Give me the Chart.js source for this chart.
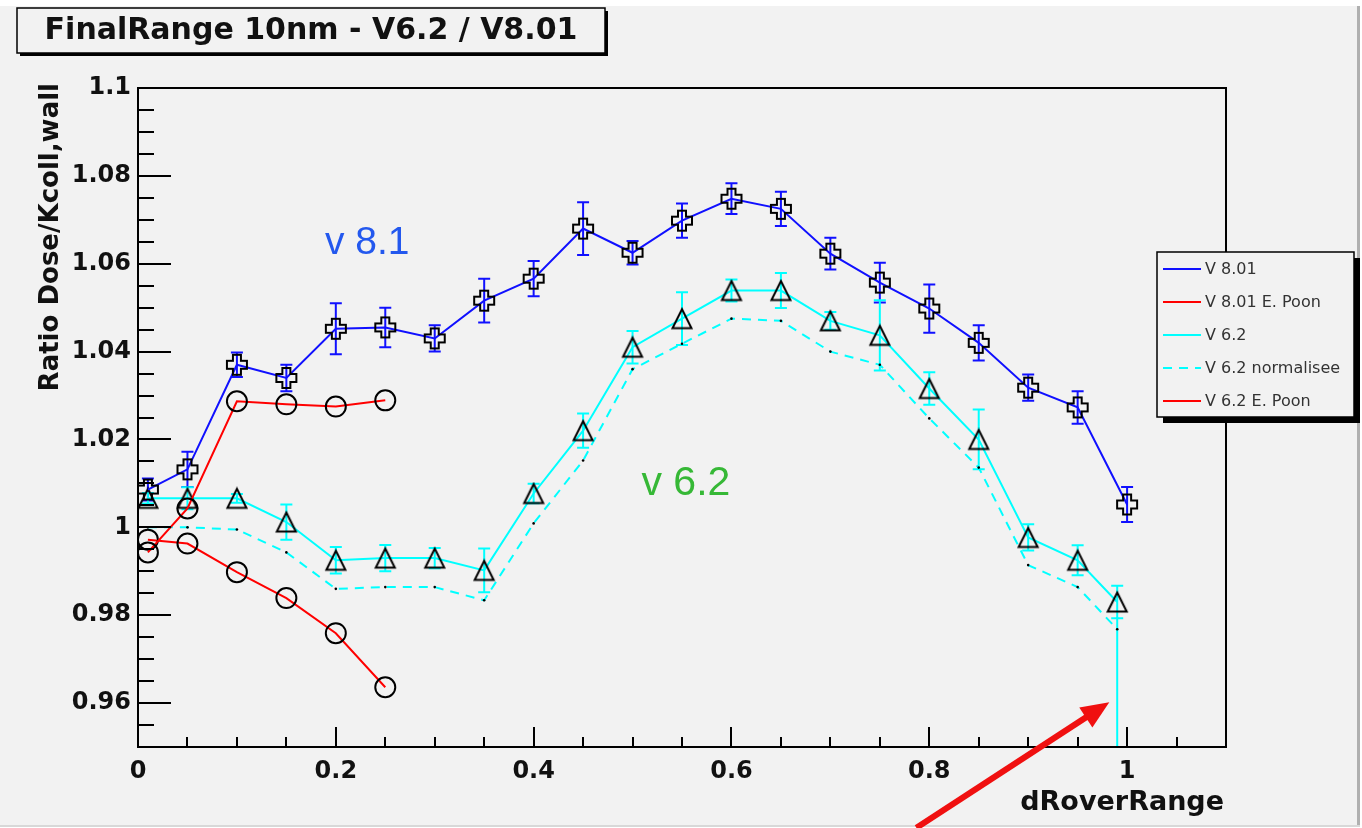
<!DOCTYPE html>
<html><head><meta charset="utf-8">
<script src="https://cdn.jsdelivr.net/npm/chart.js@4.4.1/dist/chart.umd.min.js"></script>
<style>html,body{margin:0;padding:0;background:#fff;overflow:hidden}canvas{display:block}</style>
</head><body>
<canvas id="c" width="1362" height="828"></canvas>
<script>
// ---------------- data ----------------
const chartTitle = 'FinalRange 10nm - V6.2 / V8.01';
const xAxisTitle = 'dRoverRange';
const yAxisTitle = 'Ratio Dose/Kcoll,wall';

const xV801 = [0.01,0.05,0.1,0.15,0.2,0.25,0.3,0.35,0.4,0.45,0.5,0.55,0.6,0.65,0.7,0.75,0.8,0.85,0.9,0.95,1.0];
const yV801 = [1.0086,1.0132,1.0370,1.0340,1.0452,1.0455,1.0430,1.0516,1.0566,1.0680,1.0625,1.0698,1.0748,1.0725,1.0623,1.0557,1.0498,1.0420,1.0318,1.0273,1.0052];
const eV801 = [0.0025,0.0040,0.0028,0.0030,0.0058,0.0045,0.0030,0.0050,0.0040,0.0060,0.0027,0.0039,0.0035,0.0039,0.0036,0.0045,0.0055,0.0040,0.0030,0.0037,0.0040];

const xPoon = [0.01,0.05,0.1,0.15,0.2,0.25];
const yV801Poon = [0.9943,1.0043,1.0287,1.0280,1.0275,1.0289];
const yV62Poon  = [0.9972,0.9963,0.9898,0.9839,0.9759,0.9636];

const xV62 = [0.01,0.05,0.1,0.15,0.2,0.25,0.3,0.35,0.4,0.45,0.5,0.55,0.6,0.65,0.7,0.75,0.8,0.85,0.9,0.95,0.99];
const yV62 = [1.0066,1.0066,1.0066,1.0012,0.9925,0.9930,0.9930,0.9902,1.0077,1.0220,1.0410,1.0475,1.0539,1.0539,1.0470,1.0437,1.0316,1.0200,0.9977,0.9925,0.9830];
const eV62 = [0.0012,0.0025,0.0010,0.0040,0.0030,0.0030,0.0023,0.0050,0.0022,0.0039,0.0037,0.0060,0.0025,0.0040,0.0020,0.0080,0.0037,0.0068,0.0030,0.0034,0.0037];

const yV62Norm = [1.0000,1.0000,0.9995,0.9943,0.9860,0.9864,0.9864,0.9834,1.0009,1.0152,1.0360,1.0418,1.0475,1.0470,1.0400,1.0370,1.0248,1.0136,0.9914,0.9864,0.9768];
const eV62NormHigh = [0,0,0,0,0,0,0,0,0,0,0,0,0,0,0,0,0,0,0,0,0.0028];
const eV62NormLow  = [0,0,0,0,0,0,0,0,0,0,0,0,0,0,0,0,0,0,0,0,0.0800];

const xTicks = [0,0.2,0.4,0.6,0.8,1];
const yTicks = [0.96,0.98,1,1.02,1.04,1.06,1.08,1.1];

const legendLabels = ['V 8.01','V 8.01 E. Poon','V 6.2','V 6.2 normalisee','V 6.2 E. Poon'];

const noteV81 = {text:'v 8.1', x:0.189, y:1.0623};
const noteV62 = {text:'v 6.2', x:0.509, y:1.0073};
const arrowTail = {x:0.787, y:0.9316};
const arrowTip  = {x:0.982, y:0.9602};

// ---------------- helpers ----------------
const pts = (xs, ys) => xs.map((x,i)=>({x:x, y:ys[i]}));
const fmt = v => String(+v.toFixed(2));

function crossImg(){
  const s=24, c=document.createElement('canvas'); c.width=s; c.height=s;
  const g=c.getContext('2d'); const m=s/2, a=4, L=10;
  g.beginPath();
  g.moveTo(m-a,m-L); g.lineTo(m+a,m-L); g.lineTo(m+a,m-a); g.lineTo(m+L,m-a);
  g.lineTo(m+L,m+a); g.lineTo(m+a,m+a); g.lineTo(m+a,m+L); g.lineTo(m-a,m+L);
  g.lineTo(m-a,m+a); g.lineTo(m-L,m+a); g.lineTo(m-L,m-a); g.lineTo(m-a,m-a); g.closePath();
  g.lineWidth=2; g.strokeStyle='#000'; g.stroke();
  return c;
}
function triImg(){
  const s=24, c=document.createElement('canvas'); c.width=s; c.height=s;
  const g=c.getContext('2d');
  g.beginPath(); g.moveTo(12,2.5); g.lineTo(21.5,21.5); g.lineTo(2.5,21.5); g.closePath();
  g.lineWidth=2; g.strokeStyle='#000'; g.stroke();
  return c;
}

const BLUE='#1010ff', RED='#ff0000', CYAN='#00ffff';

const datasets = [
  {label:legendLabels[0], data:pts(xV801,yV801), borderColor:BLUE, borderWidth:2,
   pointStyle:crossImg(), pointRadius:10, errHigh:eV801, errLow:eV801, errColor:BLUE},
  {label:legendLabels[1], data:pts(xPoon,yV801Poon), borderColor:RED, borderWidth:2,
   pointStyle:'circle', pointRadius:10, pointBorderColor:'#000', pointBorderWidth:2, pointBackgroundColor:'rgba(0,0,0,0)'},
  {label:legendLabels[2], data:pts(xV62,yV62), borderColor:CYAN, borderWidth:2,
   pointStyle:triImg(), pointRadius:10, errHigh:eV62, errLow:eV62, errColor:CYAN},
  {label:legendLabels[3], data:pts(xV62,yV62Norm), borderColor:CYAN, borderWidth:2, borderDash:[9,7],
   pointStyle:'circle', pointRadius:1.3, pointBorderWidth:0, pointBackgroundColor:'#000',
   errHigh:eV62NormHigh, errLow:eV62NormLow, errColor:CYAN, noCap:true},
  {label:legendLabels[4], data:pts(xPoon,yV62Poon), borderColor:RED, borderWidth:2,
   pointStyle:'circle', pointRadius:10, pointBorderColor:'#000', pointBorderWidth:2, pointBackgroundColor:'rgba(0,0,0,0)'}
];

const rootPlugin = {
  id:'rootStyle',
  beforeDraw(chart){
    const c=chart.ctx; c.save();
    c.fillStyle='#fff'; c.fillRect(0,0,chart.width,chart.height);
    c.fillStyle='#f2f2f2'; c.fillRect(0,6,1357,819);
    c.fillStyle='#b0b0b0'; c.fillRect(1357,6,3,820);
    c.fillStyle='#d8d8d8'; c.fillRect(0,825,1360,2);
    c.restore();
  },
  beforeDatasetsDraw(chart){
    const c=chart.ctx, xs=chart.scales.x, ys=chart.scales.y, a=chart.chartArea;
    c.save();
    c.beginPath(); c.rect(a.left,a.top,a.right-a.left,a.bottom-a.top); c.clip();
    chart.data.datasets.forEach(ds=>{
      if(!ds.errHigh) return;
      c.strokeStyle=ds.errColor; c.lineWidth=2;
      ds.data.forEach((p,i)=>{
        const hi=ds.errHigh[i], lo=ds.errLow[i];
        if(!hi && !lo) return;
        const px=xs.getPixelForValue(p.x), y1=ys.getPixelForValue(p.y+hi), y2=ys.getPixelForValue(p.y-lo);
        c.beginPath(); c.moveTo(px,y1); c.lineTo(px,y2); c.stroke();
        if(!ds.noCap){
          c.beginPath(); c.moveTo(px-6,y1); c.lineTo(px+6,y1); c.moveTo(px-6,y2); c.lineTo(px+6,y2); c.stroke();
        }
      });
    });
    c.restore();
  },
  afterDatasetsDraw(chart){
    const c=chart.ctx, xs=chart.scales.x, ys=chart.scales.y, a=chart.chartArea;
    c.save();
    // frame
    c.strokeStyle='#000'; c.lineWidth=2;
    c.strokeRect(a.left,a.top,a.right-a.left,a.bottom-a.top);
    // inner tick marks
    c.lineWidth=2;
    c.beginPath();
    for(let k=0;k<=30;k++){
      const v=0.95+k*0.005, py=Math.round(ys.getPixelForValue(v));
      if(py<a.top-1||py>a.bottom+1) continue;
      const len=(k%4===2)?33:16;
      c.moveTo(a.left,py); c.lineTo(a.left+len,py);
    }
    for(let k=0;k<=22;k++){
      const v=k*0.05, px=Math.round(xs.getPixelForValue(v));
      if(px>a.right) continue;
      const len=(k%4===0)?20:10;
      c.moveTo(px,a.bottom); c.lineTo(px,a.bottom-len);
    }
    c.stroke();

    // axis titles
    c.fillStyle='#111';
    c.font='bold 26px "DejaVu Sans"';
    c.save(); c.translate(51,83); c.rotate(-Math.PI/2);
    c.textAlign='right'; c.textBaseline='middle'; c.fillText(yAxisTitle,0,0);
    c.restore();
    c.font='bold 27px "DejaVu Sans"'; c.textAlign='right'; c.textBaseline='alphabetic';
    c.fillText(xAxisTitle,a.right-2,810);

    // title box
    c.fillStyle='#000'; c.fillRect(20,11,588,45);
    c.fillStyle='#f2f2f2'; c.fillRect(17,8,588,45);
    c.strokeStyle='#000'; c.lineWidth=1.5; c.strokeRect(17,8,588,45);
    c.fillStyle='#111'; c.font='bold 30px "DejaVu Sans"'; c.textAlign='center';
    c.fillText(chartTitle,311,39);

    // legend
    c.fillStyle='#000'; c.fillRect(1163,258,197,165);
    c.fillStyle='#f2f2f2'; c.fillRect(1157,252,197,165);
    c.strokeStyle='#000'; c.lineWidth=1.5; c.strokeRect(1157,252,197,165);
    c.font='16px "DejaVu Sans"'; c.textAlign='left'; c.textBaseline='middle';
    chart.data.datasets.forEach((ds,i)=>{
      const yy=269+i*33;
      c.strokeStyle=ds.borderColor; c.lineWidth=2; c.setLineDash(ds.borderDash||[]);
      c.beginPath(); c.moveTo(1163,yy); c.lineTo(1201,yy); c.stroke();
      c.setLineDash([]);
      c.fillStyle='#333'; c.fillText(ds.label,1205,yy+1);
    });

    // annotations
    c.textBaseline='alphabetic'; c.textAlign='left';
    c.font='39px "Liberation Sans"'; c.fillStyle='#2358ee';
    c.fillText(noteV81.text, xs.getPixelForValue(noteV81.x), ys.getPixelForValue(noteV81.y));
    c.font='41px "Liberation Sans"'; c.fillStyle='#36b836';
    c.fillText(noteV62.text, xs.getPixelForValue(noteV62.x), ys.getPixelForValue(noteV62.y));

    // arrow
    const tx=xs.getPixelForValue(arrowTip.x), ty=ys.getPixelForValue(arrowTip.y);
    const sx=xs.getPixelForValue(arrowTail.x), sy=ys.getPixelForValue(arrowTail.y);
    const ang=Math.atan2(ty-sy,tx-sx), hl=28, hw=12;
    const bx=tx-hl*Math.cos(ang), by=ty-hl*Math.sin(ang);
    c.strokeStyle='#f01010'; c.fillStyle='#f01010'; c.lineWidth=6;
    c.beginPath(); c.moveTo(sx,sy); c.lineTo(bx+2*Math.cos(ang),by+2*Math.sin(ang)); c.stroke();
    c.beginPath(); c.moveTo(tx,ty);
    c.lineTo(bx+hw*Math.sin(ang), by-hw*Math.cos(ang));
    c.lineTo(bx-hw*Math.sin(ang), by+hw*Math.cos(ang));
    c.closePath(); c.fill();
    c.restore();
  }
};

new Chart(document.getElementById('c'), {
  type:'line',
  data:{datasets:datasets},
  options:{
    responsive:false, animation:false, devicePixelRatio:1,
    layout:{padding:{top:88,right:136,left:0,bottom:0}},
    plugins:{legend:{display:false}, tooltip:{enabled:false}, title:{display:false}},
    elements:{line:{tension:0, fill:false}},
    scales:{
      x:{type:'linear', min:0, max:1.1,
         grid:{display:false, drawTicks:false}, border:{display:false},
         ticks:{padding:10, color:'#111', maxRotation:0, autoSkip:false,
                font:{family:'DejaVu Sans', weight:'bold', size:24}, callback:v=>fmt(v)},
         afterBuildTicks:s=>{ s.ticks = xTicks.map(v=>({value:v})); },
         afterFit:s=>{ s.height=81; }},
      y:{type:'linear', min:0.95, max:1.1,
         grid:{display:false, drawTicks:false}, border:{display:false},
         ticks:{padding:7, color:'#111', autoSkip:false,
                font:{family:'DejaVu Sans', weight:'bold', size:24}, callback:v=>fmt(v)},
         afterBuildTicks:s=>{ s.ticks = yTicks.map(v=>({value:v})); },
         afterFit:s=>{ s.width=138; }}
    }
  },
  plugins:[rootPlugin]
});
</script>
</body></html>
